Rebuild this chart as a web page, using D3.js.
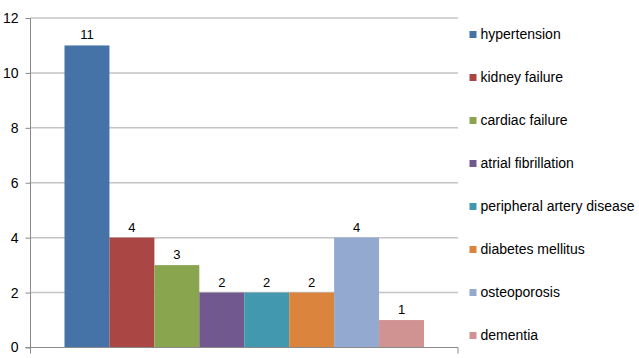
<!DOCTYPE html>
<html><head><meta charset="utf-8">
<script src="https://cdn.jsdelivr.net/npm/d3@7"></script>
<style>body{margin:0;background:#fff}svg{display:block;font-family:"Liberation Sans",Arial,sans-serif}</style>
</head><body><svg id="c" width="639" height="358"></svg>
<script>
const categories = ["hypertension","kidney failure","cardiac failure","atrial fibrillation","peripheral artery disease","diabetes mellitus","osteoporosis","dementia"];
const values = [11,4,3,2,2,2,4,1];
const colors = ["#4572A7","#AA4643","#89A54E","#71588F","#4198AF","#DB843D","#93A9CF","#D19392"];
const yTicks = [0,2,4,6,8,10,12];

const svg = d3.select("#c");
const L = 30.5, R = 458, T = 18, B = 347.5;
const y = d3.scaleLinear().domain([0,12]).range([B,T]);
const x = d3.scaleBand().domain(categories).range([L + 34, R - 34]).padding(0);

// gridlines
svg.append("g").selectAll("line").data(yTicks.filter(d=>d>0)).join("line")
  .attr("x1",L).attr("x2",R).attr("y1",d=>y(d)).attr("y2",d=>y(d))
  .attr("stroke","#c4c4c4").attr("stroke-width",1.5);

// bars
svg.append("g").selectAll("rect").data(values).join("rect")
  .attr("x",(d,i)=>x(categories[i])).attr("width",x.bandwidth())
  .attr("y",d=>y(d)).attr("height",d=>B-y(d))
  .attr("fill",(d,i)=>colors[i]);

// y axis
const ya = d3.axisLeft(y).tickValues(yTicks).tickSize(5).tickPadding(7);
const gy = svg.append("g").attr("transform",`translate(${L},0)`).call(ya);
gy.select(".domain").attr("stroke","#8a8a8a").attr("d",`M0,${T}V${B}`);
gy.selectAll(".tick line").attr("stroke","#8a8a8a");
gy.selectAll(".tick text").attr("font-size",14).attr("fill","#000").attr("font-family","Liberation Sans, Arial, sans-serif");

// x axis line
svg.append("line").attr("x1",L-5).attr("x2",R).attr("y1",B).attr("y2",B).attr("stroke","#8a8a8a");
svg.append("g").selectAll("line").data([L,R]).join("line")
  .attr("x1",d=>d).attr("x2",d=>d).attr("y1",B).attr("y2",B+6).attr("stroke","#8a8a8a");

// data labels
svg.append("g").selectAll("text").data(values).join("text")
  .attr("x",(d,i)=>x(categories[i])+x.bandwidth()/2).attr("y",d=>y(d)-6)
  .attr("text-anchor","middle").attr("font-size",13).attr("fill","#000").text(d=>d);

// legend
const lg = svg.append("g").selectAll("g").data(categories).join("g")
  .attr("transform",(d,i)=>`translate(469.5,${34.5 + i*43})`);
lg.append("rect").attr("x",0).attr("y",-3.5).attr("width",7).attr("height",7).attr("fill",(d,i)=>colors[i]);
lg.append("text").attr("x",11).attr("dy","0.35em").attr("font-size",14).attr("fill","#000").text(d=>d);
</script></body></html>
